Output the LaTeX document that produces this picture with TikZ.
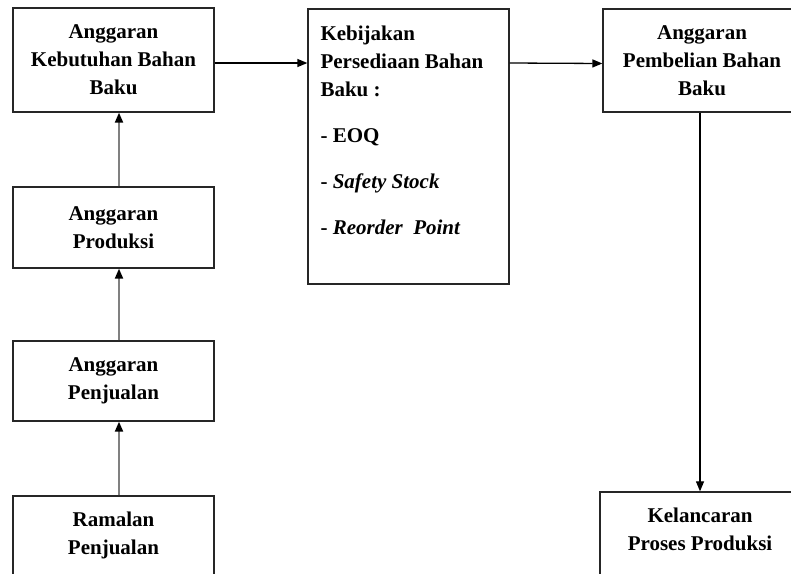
\documentclass[tikz,border=0pt]{standalone}
\usepackage{fontspec}
\setmainfont{Liberation Serif}
\usetikzlibrary{arrows.meta}
\begin{document}
\begin{tikzpicture}[x=1pt,y=-1pt,
  txt/.style={font=\fontsize{21}{28}\selectfont\bfseries},
  box/.style={txt, draw=black!85, line width=1.3pt, minimum width=201pt, align=center, inner sep=0pt},
  toptxt/.style={txt, anchor=north, inner sep=0pt, align=center},
  up/.style={draw=black!50, line width=2pt, -{Triangle[length=10pt,width=8pt,color=black]}},
  arr/.style={draw=black, line width=1.3pt, -{Triangle[length=10pt,width=8pt]}}]
\useasboundingbox (0,0) rectangle (791,573);
\clip (0,0) rectangle (791,573);
\fill[white] (0,0) rectangle (791,573);
% left column
\node[box, minimum height=104pt] (b1) at (113.5,60) {Anggaran\\Kebutuhan Bahan\\Baku};
\node[box, minimum height=81pt] (b2) at (113.5,227.5) {Anggaran\\Produksi};
\node[box, minimum height=80pt] (b3) at (113.5,381) {Anggaran\\Penjualan};
\node[box, minimum height=88pt] (b4) at (113.5,540) {};
\node[toptxt] (b4t) at ([yshift=-16pt]b4.north) {Ramalan\\Penjualan};
% middle
\node[box, minimum height=275pt] (kb) at (408.5,146.5) {};
\node[txt, anchor=north west, inner sep=0pt, align=left] (kbt) at ([xshift=13pt,yshift=-17pt]kb.north west)
  {Kebijakan\\Persediaan Bahan\\Baku :\\[18pt]- EOQ\\[18pt]- \textit{Safety Stock}\\[18pt]- \textit{Reorder\ \ Point}};
% right column
\node[box, minimum width=198pt, minimum height=103pt] (pb) at (702,60.5) {Anggaran\\Pembelian Bahan\\Baku};
\node[box, minimum width=200pt, minimum height=88pt] (kl) at (700,536) {};
\node[toptxt] (klt) at ([yshift=-16pt]kl.north) {Kelancaran\\Proses Produksi};
% connectors
\draw[up] ([xshift=5.5pt]b2.north) -- ([xshift=5.5pt]b1.south);
\draw[up] ([xshift=5.5pt]b3.north) -- ([xshift=5.5pt]b2.south);
\draw[up] ([xshift=5.5pt]b4.north) -- ([xshift=5.5pt]b3.south);
\draw[arr] ([yshift=-3pt]b1.east) -- ([yshift=-3pt]b1.east -| kb.west);
\draw[arr] ([yshift=-3pt]kb.east |- b1.east) -- ([yshift=-3pt]pb.west);
\draw[arr, line width=1.1pt] (kl.north |- pb.south) -- (kl.north);
\end{tikzpicture}
\end{document}
